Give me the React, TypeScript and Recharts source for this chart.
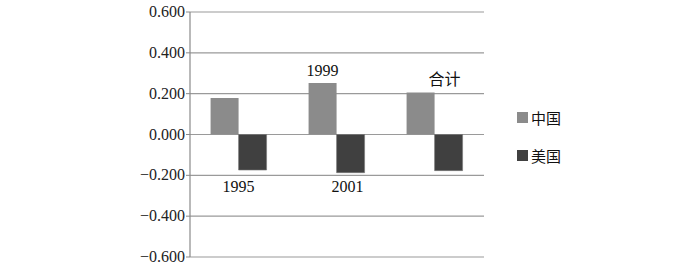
import React from 'react';
import { BarChart, Bar, XAxis, YAxis, CartesianGrid, LabelList } from 'recharts';

// groups along the x axis
const groups = ['1995', '1999—2001', '合计'];
const chinaValues = [0.179, 0.252, 0.206];
const usaValues = [-0.174, -0.187, -0.177];
// texts printed next to the bars (above the grey bar / below the dark bar)
const upperLabels = ['', '1999', '合计'];
const lowerLabels = ['1995', '2001', ''];
const yTicks = [-0.6, -0.4, -0.2, 0, 0.2, 0.4, 0.6];

const series = [
  { key: 'china', name: '中国', color: '#8b8b8b' },
  { key: 'usa', name: '美国', color: '#404040' },
];

// small horizontal nudges so the labels sit where the original puts them
const upperNudge = [0, 0, 24];
const lowerNudge = [-14, -3, 0];

const data = groups.map((g, i) => ({
  name: g,
  china: chinaValues[i],
  usa: usaValues[i],
}));

const serif = '"Liberation Serif", "DejaVu Serif", serif';
const cjk = '"Noto Sans CJK SC", sans-serif';

const fmt = (v: number) => (v < 0 ? '−' + Math.abs(v).toFixed(3) : v.toFixed(3));

const YTick = (props: any) => {
  const { x, y, payload } = props;
  return (
    <text x={x} y={y} dy={5} textAnchor="end" fontSize={16} fontFamily={serif} fill="#222" style={{ fontFamily: serif }}>
      {fmt(payload.value)}
    </text>
  );
};

const UpperLabel = (props: any) => {
  const { x, y, width, height, index } = props;
  const text = upperLabels[index];
  if (!text) return null;
  const top = Math.min(y, y + height);
  const isCjk = /[\u4e00-\u9fff]/.test(text);
  return (
    <text
      x={x + width / 2 + upperNudge[index]}
      y={top - 7}
      textAnchor="middle"
      fontSize={16}
      fontFamily={isCjk ? cjk : serif}
      fill="#111"
    >
      {text}
    </text>
  );
};

const LowerLabel = (props: any) => {
  const { x, y, width, height, index } = props;
  const text = lowerLabels[index];
  if (!text) return null;
  // the top of a negative bar is the zero line
  const zero = Math.min(y, y + height);
  return (
    <text
      x={x + width / 2 + lowerNudge[index]}
      y={zero + 57}
      textAnchor="middle"
      fontSize={16}
      fontFamily={serif}
      fill="#111"
    >
      {text}
    </text>
  );
};

export default function App() {
  return (
    <div style={{ position: 'fixed', left: 0, top: 0, width: 700, height: 269, background: '#fff' }}>
      <BarChart
        width={700}
        height={269}
        data={data}
        margin={{ top: 12, right: 216, bottom: 12, left: 0 }}
        barCategoryGap="21%"
        barGap={0}
      >
        <CartesianGrid horizontal vertical={false} stroke="#9a9a9a" strokeWidth={1.2} />
        <XAxis dataKey="name" hide />
        <YAxis
          width={190}
          domain={[-0.6, 0.6]}
          ticks={yTicks}
          interval={0}
          axisLine={{ stroke: '#8a8a8a', strokeWidth: 1.2 }}
          tickLine={{ stroke: '#8a8a8a' }}
          tickSize={4}
          tickMargin={1}
          tick={<YTick />}
        />
        <Bar dataKey="china" name={series[0].name} fill={series[0].color} isAnimationActive={false}>
          <LabelList dataKey="china" content={<UpperLabel />} />
        </Bar>
        <Bar dataKey="usa" name={series[1].name} fill={series[1].color} stroke="#777" strokeWidth={0.6} isAnimationActive={false}>
          <LabelList dataKey="usa" content={<LowerLabel />} />
        </Bar>
      </BarChart>
      <div style={{ position: 'absolute', left: 517, top: 108, fontFamily: cjk, fontSize: 15, color: '#111' }}>
        {series.map((s) => (
          <div key={s.key} style={{ display: 'flex', alignItems: 'center', height: 19, marginBottom: 19 }}>
            <span style={{ display: 'inline-block', width: 11, height: 11, background: s.color, marginRight: 3 }} />
            <span>{s.name}</span>
          </div>
        ))}
      </div>
    </div>
  );
}
